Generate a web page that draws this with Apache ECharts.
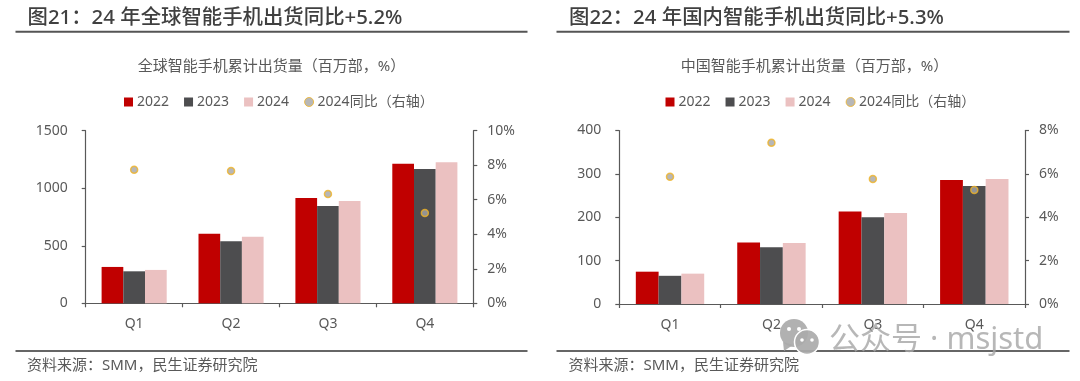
<!DOCTYPE html>
<html lang="zh-CN"><head><meta charset="utf-8">
<style>html,body{margin:0;padding:0;background:#fff}#c{width:1080px;height:381px}</style>
<script src="https://cdn.jsdelivr.net/npm/echarts@6/dist/echarts.min.js"></script>
</head><body><div id="c"></div>
<script>
const quarters = ['Q1','Q2','Q3','Q4'];
const legendNames = ['2022','2023','2024','2024同比（右轴）'];
const global2022 = [316,605,915,1213];
const global2023 = [278,539,846,1167];
const global2024 = [290,579,889,1225];
const globalYoY = [7.74,7.67,6.33,5.23];
const china2022 = [74.5,142,213,286];
const china2023 = [65,131,200,272];
const china2024 = [70,140.5,210,288];
const chinaYoY = [5.87,7.44,5.76,5.26];
const FONT = '"Noto Sans","Noto Sans CJK SC",sans-serif';
const GREY = '#595959';
const COLORS = ['#C00000','#4D4D4F','#EBC1C1'];
const chart = echarts.init(document.getElementById('c'));

function axisBase(){
  return {
    axisLine:{show:true,onZero:false,lineStyle:{color:GREY,width:1.2}},
    axisTick:{show:true,length:4,lineStyle:{color:GREY,width:1.2}},
    splitLine:{show:false}
  };
}
function panel(i, grid, leftMax, leftInt, rightMax, rightInt, leftData, yoy, barW, legendLeft){
  const xi=i, yl=i*2, yr=i*2+1;
  const bars=leftData.map((d,k)=>({
    name:legendNames[k],type:'bar',xAxisIndex:xi,yAxisIndex:yl,data:d,barWidth:barW,barGap:'0%',
    itemStyle:{color:COLORS[k]},z:2
  }));
  bars.push({
    name:legendNames[3],type:'scatter',xAxisIndex:xi,yAxisIndex:yr,data:yoy,symbol:'circle',symbolSize:7,
    itemStyle:{color:'#A5A5A5',borderColor:'#F0B323',borderWidth:1.5},z:5
  });
  return {
    grid:Object.assign({},grid),
    xAxis:Object.assign(axisBase(),{type:'category',gridIndex:i,data:quarters,
      axisLabel:{color:GREY,fontSize:14,fontFamily:FONT,margin:14}}),
    yAxes:[
      Object.assign(axisBase(),{type:'value',gridIndex:i,position:'left',min:0,max:leftMax,interval:leftInt,
        axisLabel:{color:GREY,fontSize:14,fontFamily:FONT,margin:18,padding:[2,0,0,0],formatter:v=>String(v)}}),
      Object.assign(axisBase(),{type:'value',gridIndex:i,position:'right',min:0,max:rightMax,interval:rightInt,
        axisLabel:{color:GREY,fontSize:14,fontFamily:FONT,margin:14,padding:[2,0,0,0],formatter:'{value}%'}})
    ],
    series:bars,
    legend:{
      left:legendLeft,top:90,itemWidth:9,itemHeight:9,itemGap:15,
      textStyle:{color:GREY,fontSize:14,fontFamily:FONT,padding:[0,0,0,-1]},
      data:legendNames.map((n,k)=>k===3
        ?{name:n,icon:'circle',itemStyle:{borderWidth:1}}
        :{name:n,icon:'rect'}),
      selectedMode:false
    }
  };
}
const p1=panel(0,{left:85.7,top:130.7,width:387.6,height:172.6},1500,500,10,2,[global2022,global2023,global2024],globalYoY,21.7,119);
const p2=panel(1,{left:619.3,top:130.5,width:405.7,height:173.5},400,100,8,2,[china2022,china2023,china2024],chinaYoY,22.8,660.5);

function text(x,y,t,size,color,weight,align){
  return {type:'text',x:x,y:y,silent:true,z:10,
    style:{text:t,fontSize:size,fontFamily:FONT,fontWeight:weight||400,fill:color,textAlign:align||'left',textVerticalAlign:'middle'}};
}
function rule(x1,x2,y,color){
  return {type:'line',silent:true,shape:{x1:x1,y1:y,x2:x2,y2:y},style:{stroke:color,lineWidth:2}};
}
const WM='rgba(165,165,165,0.8)';
const WI='rgba(170,170,170,0.92)';
function eye(cx,cy,r,z){return {type:'circle',silent:true,z:z,shape:{cx:cx,cy:cy,r:r},style:{fill:'#ffffff'}};}
const graphics=[
  rule(15.5,527.5,31.7,'#555555'),rule(556.5,1069.5,31.7,'#555555'),
  rule(15.5,527.5,351,'#666666'),rule(556.5,1069.5,351,'#666666'),
  text(27.5,18,'图21：24 年全球智能手机出货同比+5.2%',20.4,'#404040',500),
  text(569,18,'图22：24 年国内智能手机出货同比+5.3%',20.4,'#404040',500),
  text(271.5,67,'全球智能手机累计出货量（百万部，%）',15,GREY,400,'center'),
  text(814.5,67,'中国智能手机累计出货量（百万部，%）',15,GREY,400,'center'),
  text(27,366,'资料来源：SMM，民生证券研究院',15,GREY),
  text(568.5,366,'资料来源：SMM，民生证券研究院',15,GREY),
  {type:'circle',silent:true,z:11,shape:{cx:794,cy:333,r:14},style:{fill:WI}},
  {type:'polygon',silent:true,z:11,shape:{points:[[783,342],[784,351],[793,345]]},style:{fill:WI}},
  eye(789,329,2,12),eye(799,329,2,12),
  {type:'circle',silent:true,z:12,shape:{cx:807,cy:342,r:12.5},style:{fill:WI,stroke:'#fff',lineWidth:1.5}},
  eye(802,340,1.8,13),eye(812,340,1.8,13),
  text(829,340,'公众号 · msjstd',31,WM,400)
];

chart.setOption({
  animation:false,
  backgroundColor:'#fff',
  grid:[p1.grid,p2.grid],
  xAxis:[p1.xAxis,p2.xAxis],
  yAxis:[...p1.yAxes,...p2.yAxes],
  legend:[p1.legend,p2.legend],
  series:[...p1.series,...p2.series],
  graphic:graphics
});
</script></body></html>
